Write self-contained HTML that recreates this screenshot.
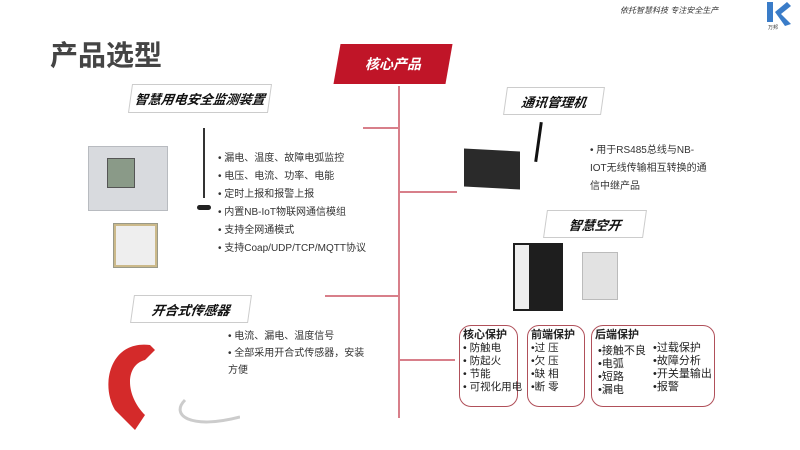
<!DOCTYPE html>
<html><head><meta charset="utf-8"><style>
*{margin:0;padding:0;box-sizing:border-box}
body{width:800px;height:450px;background:#fff;position:relative;overflow:hidden;font-family:"Liberation Sans","Noto Sans CJK SC",sans-serif;color:#222}
.a{position:absolute}
.lbl{position:absolute;border:1px solid #ccc;transform:skewX(-8deg);background:#fff;display:flex;align-items:center;justify-content:center}
.lbl span{font-weight:bold;font-style:italic;font-size:13px;color:#111}
.ln{position:absolute;background:#d87f8a}
ul{list-style:none;font-size:10px;line-height:18px;color:#333}
.box{position:absolute;border:1.5px solid #b0505a;border-radius:12px;font-size:10.5px;line-height:13px;padding:3px 3px;white-space:nowrap}
.box b{font-size:11px}
</style></head><body>
<div class="a" style="left:620px;top:5px;font-size:8px;font-style:italic;color:#333">依托智慧科技 专注安全生产</div>
<svg class="a" style="left:763px;top:0" width="30" height="30"><path d="M4 2 L10 2 L10 22 L4 22Z M12 12 L24 2 L28 6 L18 14 L28 24 L22 26 Z" fill="#3a7cc8"/></svg>
<div class="a" style="left:768px;top:24px;font-size:5px;color:#333">万邦</div>
<div class="a" style="left:50px;top:34px;font-size:28px;font-weight:bold;color:#444">产品选型</div>
<div class="a" style="left:337px;top:44px;width:112px;height:40px;background:#c01528;transform:skewX(-10deg)"></div>
<div class="a" style="left:337px;top:44px;width:112px;height:40px;color:#fff;font-weight:bold;font-style:italic;font-size:14px;display:flex;align-items:center;justify-content:center">核心产品</div>
<div class="ln" style="left:398px;top:86px;width:1.5px;height:332px"></div>
<div class="ln" style="left:363px;top:127px;width:36px;height:1.5px"></div>
<div class="ln" style="left:399px;top:191px;width:58px;height:1.5px"></div>
<div class="ln" style="left:325px;top:295px;width:74px;height:1.5px"></div>
<div class="ln" style="left:399px;top:359px;width:56px;height:1.5px"></div>
<div class="lbl" style="left:130px;top:84px;width:140px;height:29px"><span>智慧用电安全监测装置</span></div>
<div class="lbl" style="left:132px;top:295px;width:118px;height:28px"><span>开合式传感器</span></div>
<div class="lbl" style="left:505px;top:87px;width:98px;height:28px"><span>通讯管理机</span></div>
<div class="lbl" style="left:545px;top:210px;width:100px;height:28px"><span>智慧空开</span></div>
<div class="a" style="left:88px;top:146px;width:80px;height:65px;background:#d8dade;border:1px solid #b8bbc0"></div>
<div class="a" style="left:107px;top:158px;width:28px;height:30px;background:#8a9a88;border:1px solid #555"></div>
<div class="a" style="left:203px;top:128px;width:2px;height:70px;background:#333"></div>
<div class="a" style="left:197px;top:205px;width:14px;height:5px;background:#222;border-radius:3px"></div>
<div class="a" style="left:113px;top:223px;width:45px;height:45px;background:#cbb98a;border:1px solid #998"></div>
<div class="a" style="left:116px;top:226px;width:39px;height:39px;background:#eee"></div>
<ul class="a" style="left:218px;top:150px">
<li>• 漏电、温度、故障电弧监控</li><li>• 电压、电流、功率、电能</li><li>• 定时上报和报警上报</li><li>• 内置NB-IoT物联网通信模组</li><li>• 支持全网通模式</li><li>• 支持Coap/UDP/TCP/MQTT协议</li></ul>
<svg class="a" style="left:90px;top:335px" width="150" height="100"><path d="M60 10 C20 5 10 50 25 75 L45 95 L55 80 C35 60 35 30 55 25 L65 15Z" fill="#d42a2a"/><path d="M95 65 C80 80 100 95 150 82" stroke="#ccc" stroke-width="3" fill="none"/></svg>
<ul class="a" style="left:228px;top:328px;line-height:17px;width:140px"><li>• 电流、漏电、温度信号</li><li>• 全部采用开合式传感器，安装方便</li></ul>
<div class="a" style="left:464px;top:150px;width:56px;height:38px;background:#2a2a2a;transform:skewY(3deg)"></div>
<div class="a" style="left:537px;top:122px;width:3px;height:40px;background:#111;transform:rotate(8deg)"></div>
<ul class="a" style="left:590px;top:142px;width:120px;font-size:10px;line-height:18px"><li>• 用于RS485总线与NB-IOT无线传输相互转换的通信中继产品</li></ul>
<div class="a" style="left:513px;top:243px;width:50px;height:68px;background:#1e1e1e"></div>
<div class="a" style="left:515px;top:245px;width:14px;height:64px;background:#eee"></div>
<div class="a" style="left:582px;top:252px;width:36px;height:48px;background:#e2e2e2;border:1px solid #bbb"></div>
<div class="box" style="left:459px;top:325px;width:59px;height:82px"><b>核心保护</b><br>• 防触电<br>• 防起火<br>• 节能<br>• 可视化用电</div>
<div class="box" style="left:527px;top:325px;width:58px;height:82px"><b>前端保护</b><br>•过 压<br>•欠 压<br>•缺 相<br>•断 零</div>
<div class="box" style="left:591px;top:325px;width:124px;height:82px"><b>后端保护</b></div>
<div class="a" style="left:598px;top:345px;font-size:11px;line-height:13px">•接触不良<br>•电弧<br>•短路<br>•漏电</div>
<div class="a" style="left:653px;top:342px;font-size:11px;line-height:13px">•过载保护<br>•故障分析<br>•开关量输出<br>•报警</div>
</body></html>
